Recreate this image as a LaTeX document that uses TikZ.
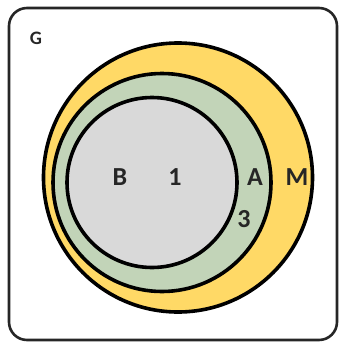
\documentclass[tikz,border=0pt]{standalone}
\usepackage{fontspec}
\setmainfont{Carlito}
\usetikzlibrary{positioning}
\definecolor{mfill}{RGB}{255,217,102}
\definecolor{afill}{RGB}{194,212,184}
\definecolor{bfill}{RGB}{217,217,217}
\definecolor{ink}{RGB}{38,38,38}
\tikzset{setline/.style={draw=black, line width=3.6pt},
         setlabel/.style={text=ink, font=\fontsize{26}{28}\selectfont\bfseries, inner sep=0pt}}

\begin{document}
\begin{tikzpicture}[x=1pt,y=-1pt]
  \useasboundingbox (0,0) rectangle (340,343);
  \draw[line width=2.6pt, draw=ink, rounded corners=18pt] (9,8) rectangle (337,340);
  \node[text=ink, font=\fontsize{19}{21}\selectfont\bfseries, inner sep=0pt] (g) at (36,38.5) {G};

  \filldraw[setline, fill=mfill] (178,177.5) circle[radius=134.5];
  \filldraw[setline, fill=afill] (162,182.5) circle[radius=109];
  \filldraw[setline, fill=bfill] (152,182.5) circle[radius=85];

  \node[setlabel] (b) at (120,177) {B};
  \node[setlabel] (one) at (175,177) {1};
  \node[setlabel] (a) at (255,177) {A};
  \node[setlabel] (three) at (244,219) {3};
  \node[setlabel] (m) at (297,177) {M};
\end{tikzpicture}
\end{document}
